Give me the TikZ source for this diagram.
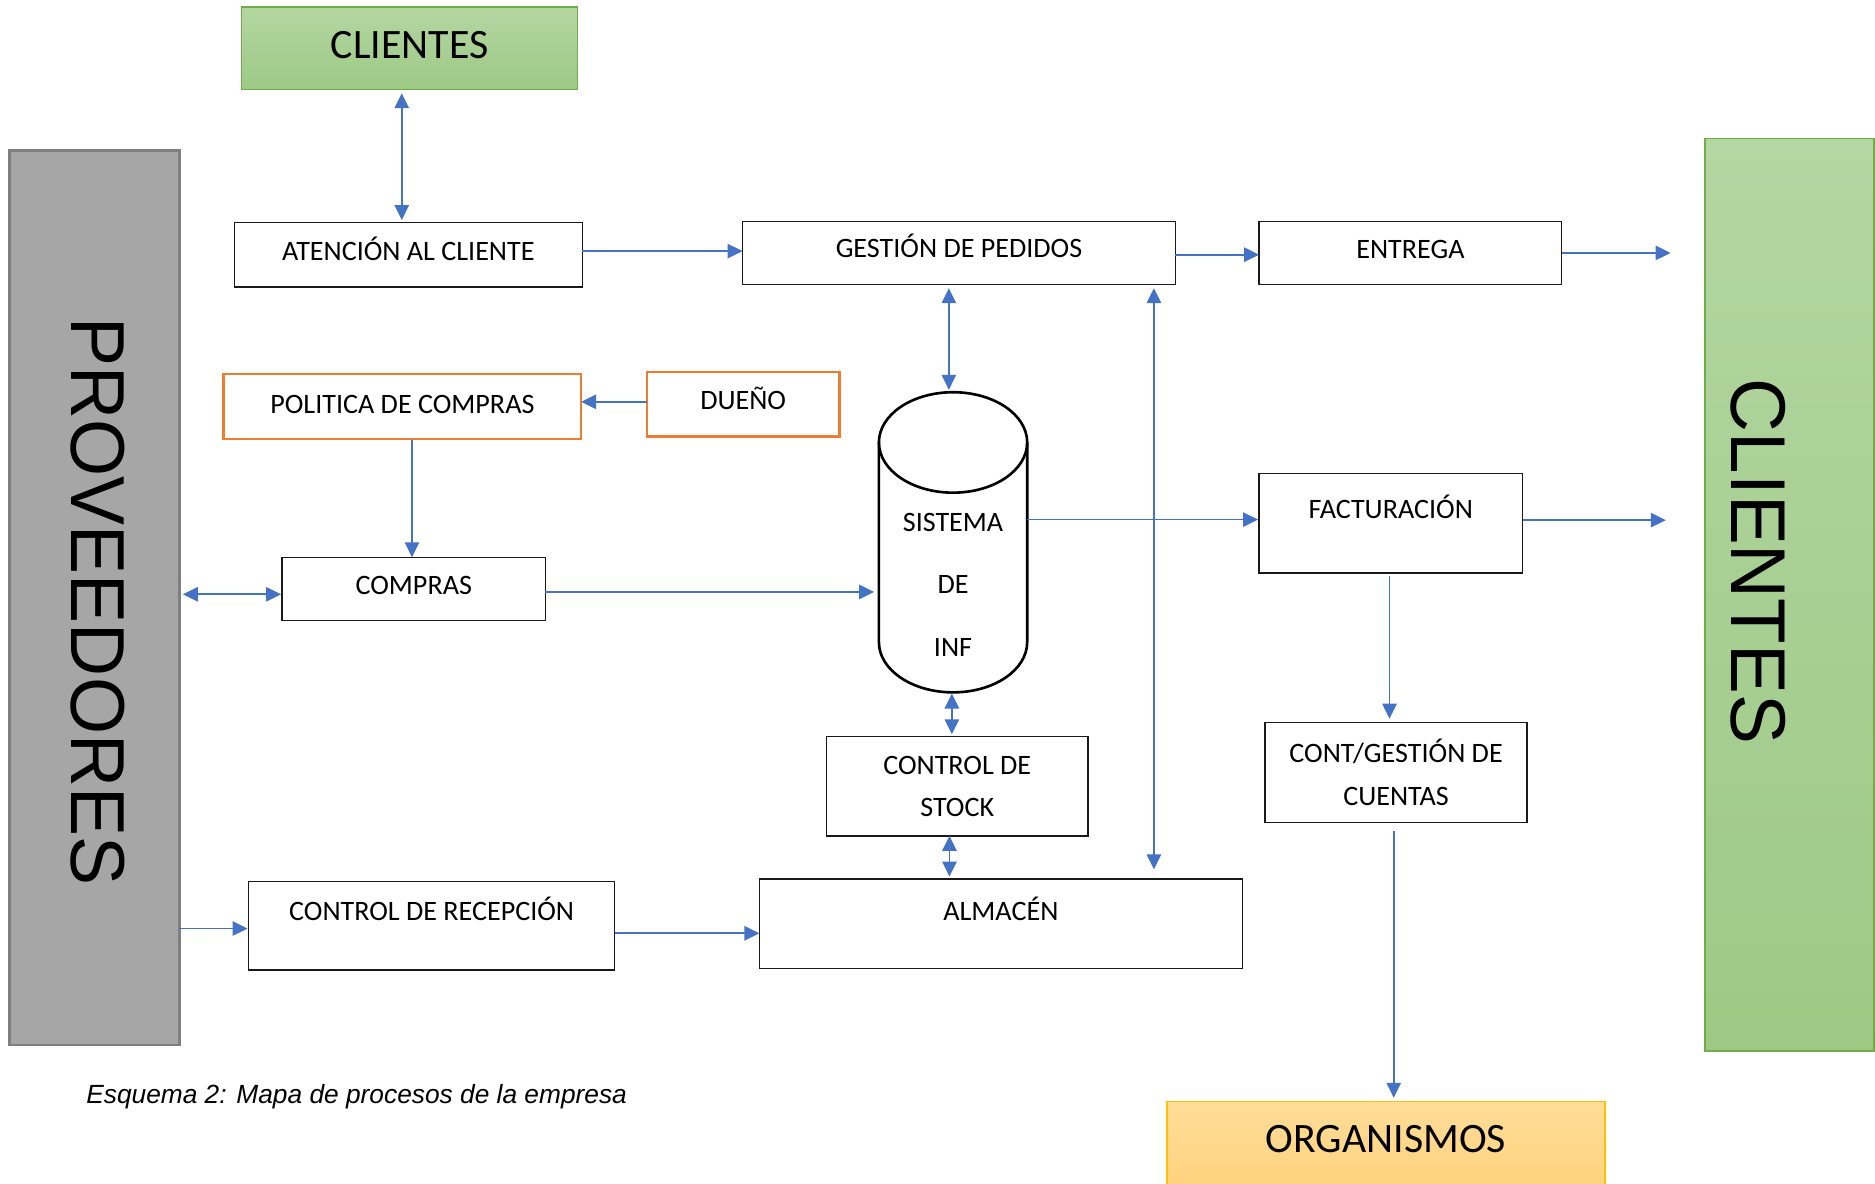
\documentclass[tikz,border=0pt]{standalone}
\usepackage{fontspec}
\usepackage{graphicx}
\setmainfont{Carlito}
\newfontfamily\arialf{Liberation Sans}
\usetikzlibrary{arrows.meta,calc}
\definecolor{ablue}{HTML}{4472C4}
\definecolor{gborder}{HTML}{70AD47}
\definecolor{gtop}{HTML}{B4D6A2}
\definecolor{gbot}{HTML}{9DC985}
\definecolor{oborder}{HTML}{ED7D31}
\definecolor{ytop}{HTML}{FFDC98}
\definecolor{ybot}{HTML}{FFD27C}
\definecolor{yborder}{HTML}{FFC000}
\definecolor{pgray}{HTML}{A6A6A6}
\definecolor{pborder}{HTML}{7F7F7F}
\begin{document}
\begin{tikzpicture}[x=1pt,y=-1pt,
  base/.style={inner sep=0pt, outer sep=0pt, align=center},
  box/.style={base, draw=black!90, line width=1.2pt, fill=white, font=\fontsize{23.5}{35.5}\selectfont},
  onebox/.style={box, text height=15pt},
  obox/.style={onebox, draw=oborder, line width=2pt},
  bigbox/.style={base, draw=gborder, line width=1.3pt, top color=gtop, bottom color=gbot, font=\fontsize{35}{40}\selectfont, text height=22pt},
  side/.style={base, line width=1.3pt},
  arr/.style={draw=ablue, line width=1.4pt, -{Triangle[length=12.5pt,width=12pt]}},
  arrb/.style={draw=ablue, line width=1.4pt, {Triangle[length=12.5pt,width=12pt]}-{Triangle[length=12.5pt,width=12pt]}},
]
\useasboundingbox (0,0) rectangle (1568,990);
\clip (0,0) rectangle (1568,990);

% side bars and top/bottom boxes
\node[bigbox, minimum width=281pt, minimum height=69pt, text depth=5pt] (cliTop) at (342.5,40.5) {CLIENTES};
\node[side, draw=pborder, line width=2pt, fill=pgray, minimum width=142pt, minimum height=748pt,
  label={[font=\arialf\fontsize{64}{70}\selectfont, xshift=2.5pt, yshift=-3pt]center:\rotatebox{-90}{\scalebox{0.96}[1]{PROVEEDORES}}}] (prov) at (79,500) {};
\node[side, draw=gborder, top color=gtop, bottom color=gbot, minimum width=141pt, minimum height=763pt,
  label={[font=\arialf\fontsize{65}{70}\selectfont, xshift=-26pt, yshift=28pt]center:\rotatebox{-90}{\scalebox{0.96}[1]{CLIENTES}}}] (cliR) at (1496.5,497.5) {};
\node[bigbox, draw=yborder, top color=ytop, bottom color=ybot, minimum width=366pt, minimum height=79pt, text depth=15pt] (org) at (1159,960.5) {ORGANISMOS};

% process boxes
\node[onebox, minimum width=291pt, minimum height=54pt, text depth=6pt] (aten) at (341.5,213) {ATENCIÓN AL CLIENTE};
\node[onebox, minimum width=362pt, minimum height=53pt, text depth=7pt] (gest) at (802,211.5) {GESTIÓN DE PEDIDOS};
\node[onebox, minimum width=253pt, minimum height=53pt, text depth=5pt] (entr) at (1179.5,211.5) {ENTREGA};
\node[obox, minimum width=299pt, minimum height=54pt, text depth=4pt] (pol) at (336.5,340) {POLITICA DE COMPRAS};
\node[obox, minimum width=161pt, minimum height=54pt, text depth=6pt] (duen) at (621.5,338) {DUEÑO};
\node[onebox, minimum width=220pt, minimum height=53pt, text depth=5pt] (comp) at (346,492.5) {COMPRAS};
\node[box, minimum width=219pt, minimum height=83pt] (stock) at (800.5,657.5) {CONTROL DE\\STOCK};
\node[onebox, minimum width=306pt, minimum height=74pt, text depth=24pt] (recep) at (361,774) {CONTROL DE RECEPCIÓN};
\node[onebox, minimum width=404pt, minimum height=75pt, text depth=21pt] (alm) at (837,772.5) {ALMACÉN};
\node[onebox, minimum width=220pt, minimum height=83pt, text depth=23pt] (fact) at (1163,437.5) {FACTURACIÓN};
\node[box, minimum width=219pt, minimum height=84pt] (cont) at (1167.5,646) {CONT/GESTIÓN DE\\CUENTAS};

% database cylinder
\node[base, minimum width=124pt, minimum height=251pt,
  label={[font=\fontsize{23.5}{52}\selectfont, align=center, yshift=-35.5pt]center:SISTEMA\\DE\\INF}] (sis) at (797,453.5) {};
\draw[line width=2.2pt] ($(sis.north west)+(0,42)$) -- ($(sis.south west)+(0,-42)$)
  arc[start angle=180, end angle=0, x radius=62, y radius=42] -- ($(sis.north east)+(0,42)$);
\draw[line width=2.2pt] ($(sis.north)+(0,42)$) ellipse [x radius=62, y radius=42];

% caption
\node[anchor=base west, inner sep=0pt, font=\arialf\itshape\fontsize{22}{26}\selectfont] (cap) at (72,922.5) {Esquema 2: Mapa de procesos de la empresa};

% free ends
\coordinate (entrOut) at (1397,212);
\coordinate (factOut) at (1393,435);

% connectors
\coordinate (c1) at ([xshift=-6.5pt]cliTop.south);
\draw[arrb, shorten <=3pt, shorten >=2pt] (c1) -- (c1 |- aten.north);
\coordinate (c2) at ([yshift=3pt]aten.east);
\draw[arr] (c2) -- (c2 -| gest.west);
\coordinate (c3) at ([yshift=-1.5pt]gest.east);
\draw[arr] (c3) -- (c3 -| entr.west);
\draw[arr] (entr.east) -- (entr.east -| entrOut);
\coordinate (c5) at ([xshift=-3.5pt]sis.north);
\draw[arrb, shorten <=2pt, shorten >=3pt] (c5) -- (c5 |- gest.south);
\coordinate (c6) at ([xshift=-18pt]gest.south east);
\draw[arrb, shorten <=3pt, shorten >=8pt] (c6) -- (c6 |- alm.north);
\coordinate (c7) at ([yshift=2pt]duen.west);
\draw[arr] (c7) -- (c7 -| pol.east);
\coordinate (c8) at ([xshift=8pt]pol.south);
\draw[arr, shorten <=1pt] (c8) -- (c8 |- comp.north);
\coordinate (c9) at ([yshift=-4.5pt]comp.west);
\draw[arrb, shorten <=1pt, shorten >=3pt] (c9) -- (c9 -| prov.east);
\coordinate (c10) at ([yshift=-2.5pt]comp.east);
\draw[arr, shorten >=4pt] (c10) -- (c10 -| sis.west);
\coordinate (c11) at ([yshift=3pt]fact.west);
\draw[arr, shorten >=1pt] (c11 -| sis.east) -- (c11);
\coordinate (c12) at ([yshift=2.5pt]fact.east);
\draw[arr, shorten <=1pt] (c12) -- (c12 -| factOut);
\coordinate (c13) at ([xshift=-1pt]fact.south);
\draw[arr, shorten <=3pt, shorten >=3pt] (c13) -- (c13 |- cont.north);
\coordinate (c14) at ([xshift=-2pt]cont.south);
\draw[arr, shorten <=7pt, shorten >=3pt] (c14) -- (c14 |- org.north);
\coordinate (c15) at ([xshift=-1pt]sis.south);
\draw[arrb, shorten <=1pt, shorten >=2pt] (c15) -- (c15 |- stock.north);
\coordinate (c16) at ([xshift=-6.5pt]stock.south);
\draw[arrb, shorten >=2pt] (c16) -- (c16 |- alm.north);
\coordinate (c17) at ([yshift=-2.5pt]recep.west);
\draw[arr, shorten >=1pt] (c17 -| prov.east) -- (c17);
\coordinate (c18) at ([yshift=-6.5pt]recep.east);
\draw[arr] (c18) -- (c18 -| alm.west);
\end{tikzpicture}
\end{document}
